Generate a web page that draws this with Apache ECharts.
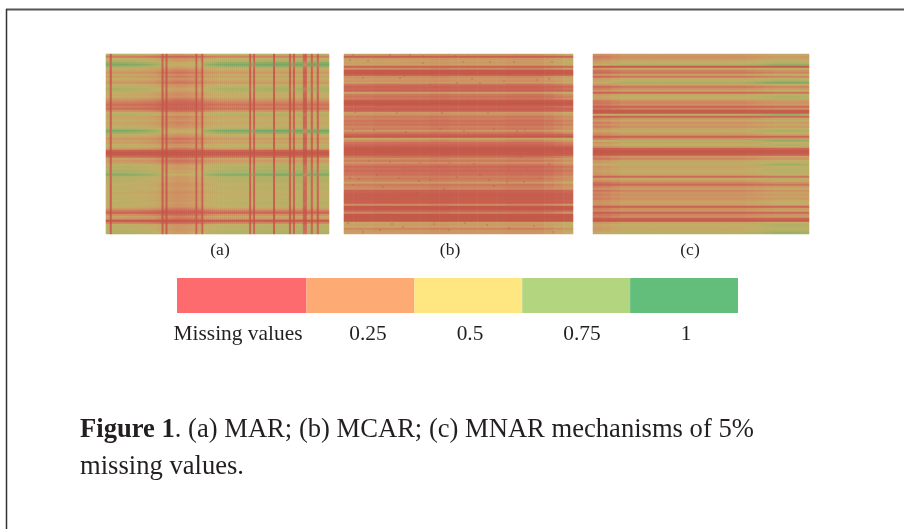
<!DOCTYPE html>
<html><head><meta charset="utf-8">
<script src="https://cdn.jsdelivr.net/npm/echarts@6/dist/echarts.min.js"></script>
<style>html,body{margin:0;padding:0;background:#fff}#c{width:904px;height:529px}#c canvas{filter:blur(.35px)}</style>
</head><body><div id="c"></div>
<script>
const rowsA=[.55,.2,.5,.6,.8,.95,.75,.5,.4,.3,.45,.35,.5,.4,.3,.5,.55,.7,.65,.5,.45,.5,.35,.25,.2,.15,.2,.15,.25,.5,.65,.4,.45,.5,.4,.45,.5,.65,.95,.8,.55,.45,.3,.4,.35,.5,.55,.35,.1,.03,.05,.15,.4,.3,.35,.55,.65,.6,.7,.7,.9,.65,.6,.65,.55,.5,.55,.6,.5,.45,.55,.5,.55,.5,.6,.55,.5,.35,.2,.1,.25,.4,.3,.03,.2,.5,.6,.55,.6,.65];
const colsA=[1,1,.12,1,1,1,1,1,.99,.99,.98,.98,.97,.97,.96,.95,.95,.93,.92,.91,.9,.89,.87,.85,.83,.8,.76,.72,.12,.62,.12,.6,.58,.56,.54,.52,.52,.52,.52,.54,.54,.56,.58,.6,.6,.14,.64,.64,.14,.82,.85,.88,.9,.93,.95,.97,1,1,1,1,1.02,1.02,1.02,1.02,1.02,1.02,1.02,1.02,1.02,1.02,1.02,1.02,.14,.95,.18,1.05,1.05,1.05,1.05,1.05,1.05,1.05,1.05,1.05,.12,1.06,1.06,1.06,1.06,1.06,1.06,1.06,.14,.95,.18,1.06,1.06,1.06,1.06,.24,.24,1.06,1.06,.18,1.06,1.06,.18,1.05,1.05,1.05,1.05,1.05];
const rowsB=[.55,.12,.5,.6,.55,.6,.15,.4,.05,.03,.1,.4,.5,.45,.55,.25,.15,.2,.15,.6,.3,.25,.3,.08,.03,.05,.2,.12,.15,.55,.45,.3,.35,.25,.3,.25,.35,.3,.5,.3,.15,.05,.65,.4,.25,.2,.1,.03,.05,.05,.08,.25,.4,.3,.45,.3,.2,.25,.2,.25,.25,.35,.3,.35,.55,.3,.35,.4,.15,.12,.08,.1,.08,.12,.1,.4,.05,.03,.15,.35,.05,.03,.05,.03,.6,.55,.65,.35,.5,.55];
const colsB=[.66,.66,.66,.62,.62,.62,.6,.6,.6,.56,.56,.6,.6,.6,.6,.6,.6,.56,.56,.56,.56,.64,.74,.85];
const rowsC=[.4,.3,.35,.5,.55,.75,.05,.5,.25,.2,.45,.2,.5,.6,.85,.45,.2,.3,.45,.15,.5,.6,.55,.3,.25,.3,.12,.25,.05,.05,.7,.12,.35,.5,.3,.4,.3,.45,.65,.45,.35,.1,.3,.75,.45,.6,.4,.1,.03,.03,.08,.35,.25,.45,.5,.7,.45,.5,.55,.5,.45,.15,.55,.4,.25,.15,.3,.4,.25,.35,.3,.35,.3,.4,.45,.4,.1,.3,.35,.12,.25,.3,.1,.03,.45,.6,.55,.5,.55,.7];
const colsC=[.64,.68,.78,.87,.87,.87,.87,.87,.87,.87,.87,.87,.87,.87,.87,.87,.87,.92,.98,1.05,1.12,1.12,1.12,1.08];
const flecksB=[[9,1],[46,1],[66,1],[79,2],[111,2],[6,6],[79,9],[119,8],[146,8],[208,8],[19,24],[56,24],[86,31],[113,29],[136,29],[193,26],[91,33],[11,58],[53,59],[98,59],[144,59],[9,76],[96,75],[173,77],[46,108],[59,114],[76,109],[176,103],[3,116],[6,124],[9,131],[33,121],[86,126],[113,123],[136,121],[163,128],[196,124],[39,133],[53,143],[73,139],[121,169],[143,171],[4,169],[36,176],[59,173],[209,178],[19,178],[183,114],[106,109],[181,76],[24,7],[170,8],[60,22],[128,25],[160,27],[205,25],[30,76],[62,78],[120,77],[150,75],[25,107],[95,112],[130,110],[165,115],[205,110],[15,125],[55,124],[75,127],[145,126],[180,128],[20,140],[100,135],[150,132],[90,170],[105,176],[165,174],[190,172],[48,170]];
const heatRamp=['#C25646','#CC6858','#CF8E62','#C9A165','#C2AE66','#B5B066','#A5B066','#8CAB66','#76A768'];
const legendLabels=['Missing values','0.25','0.5','0.75','1'];
const legendSpans=[1.2,1,1,1,1];
const legendColors=['#FD6B6F','#FDAA75','#FEE680','#B3D580','#63BE7B'];
const panelLabels=['(a)','(b)','(c)'];
const captionBold='Figure 1';
const captionRest='. (a) MAR; (b) MCAR; (c) MNAR mechanisms of 5%';
const captionLine2='missing values.';

const serif='"Liberation Serif","Times New Roman",serif';
function matrix(rows,cols){const d=[];rows.forEach((r,y)=>cols.forEach((c,x)=>d.push([x,y,Math.min(1,r*c)])));return d;}
const panels=[{l:106,w:223,r:rowsA,c:colsA},{l:344,w:229,r:rowsB,c:colsB},{l:593,w:216,r:rowsC,c:colsC}];
const grid=panels.map(p=>({left:p.l,top:54,width:p.w,height:180}));
grid.push({left:177,top:278,width:561,height:35});
const xAxis=panels.map((p,i)=>({type:'category',gridIndex:i,show:false,data:p.c.map((_,k)=>k)}));
const yAxis=panels.map((p,i)=>({type:'category',gridIndex:i,show:false,inverse:true,data:p.r.map((_,k)=>k)}));
const series=panels.map((p,i)=>({type:'heatmap',xAxisIndex:i,yAxisIndex:i,data:matrix(p.r,p.c),progressive:0,silent:true,itemStyle:{borderWidth:0}}));
xAxis.push({type:'value',gridIndex:1,show:false,min:0,max:229});
yAxis.push({type:'value',gridIndex:1,show:false,inverse:true,min:0,max:180});
series.push({type:'scatter',xAxisIndex:3,yAxisIndex:3,data:flecksB,symbolSize:1.6,silent:true,itemStyle:{color:'#A06C42',opacity:.65}});
xAxis.push({type:'value',gridIndex:3,show:false,min:0,max:legendSpans.reduce((a,b)=>a+b,0)});
yAxis.push({type:'category',gridIndex:3,show:false,data:['scale']});
legendSpans.forEach((s,i)=>series.push({type:'bar',stack:'scale',xAxisIndex:4,yAxisIndex:4,barWidth:'100%',data:[s],silent:true,itemStyle:{color:legendColors[i]}}));

const txt=(x,y,text,size,extra)=>({type:'text',x,y,silent:true,style:Object.assign({text,fill:'#231F20',font:size+'px '+serif,textAlign:'center',textVerticalAlign:'middle'},extra||{})});
const legendX=[238,368,470,582,686];
const graphic=[
 {type:'line',silent:true,shape:{x1:6,y1:9.5,x2:904,y2:9.5},style:{stroke:'#555',lineWidth:2}},
 {type:'line',silent:true,shape:{x1:6.5,y1:9,x2:6.5,y2:529},style:{stroke:'#333',lineWidth:1.5}},
 txt(220,250.5,panelLabels[0],17.5),txt(450,250.5,panelLabels[1],17.5),txt(690,250.5,panelLabels[2],17.5),
 ...legendLabels.map((t,i)=>txt(legendX[i],334.5,t,21.4)),
 {type:'text',x:80,y:430,silent:true,style:{rich:{b:{font:'bold 26.6px '+serif,fill:'#231F20'},n:{font:'26.6px '+serif,fill:'#231F20'}},text:'{b|'+captionBold+'}{n|'+captionRest+'}',textVerticalAlign:'middle'}},
 txt(80,467,captionLine2,26.6,{textAlign:'left'})
];
const chart=echarts.init(document.getElementById('c'),null,{renderer:'canvas'});
chart.setOption({animation:false,backgroundColor:'#fff',grid,xAxis,yAxis,series,graphic,
 visualMap:{show:false,seriesIndex:[0,1,2],dimension:2,min:0,max:1,inRange:{color:heatRamp}}});
</script></body></html>
